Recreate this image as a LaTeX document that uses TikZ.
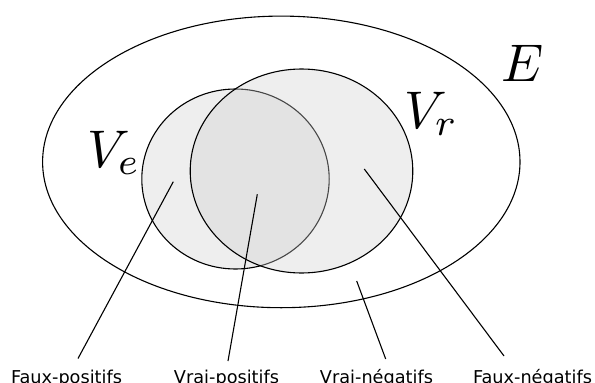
\documentclass[tikz,border=0pt]{standalone}
\usepackage{fontspec}
\newfontfamily\capfont{DejaVu Sans}
\usetikzlibrary{positioning}
\definecolor{setgray}{RGB}{238, 238, 238}
\definecolor{overgray}{RGB}{207, 207, 207}

\begin{document}
\begin{tikzpicture}[
  x=1pt, y=-1pt,
  setline/.style={draw, line width=1.1pt},
  setname/.style={inner sep=0pt, anchor=base west, scale=5.3},
  caption/.style={inner sep=0pt, anchor=base, font=\capfont\fontsize{17.7}{20}\selectfont},
  pointer/.style={line width=1.1pt}
]
  \useasboundingbox (0,0) rectangle (595,383);

  % universe and the two sets
  \draw[setline] (281.3,161.9) ellipse [x radius=238.7, y radius=145.8];
  \draw[setline, fill=setgray] (235.5,179) ellipse [x radius=93.7, y radius=90];
  \draw[setline, fill=overgray, fill opacity=0.35] (301.5,171) ellipse [x radius=111.3, y radius=102];

  \node[setname] (E) at (500,81) {$E$};
  \node[setname] (Ve) at (86,167) {$V_e$};
  \node[setname] (Vr) at (403,128) {$V_r$};

  % captions
  \node[caption] (fp) at (66.5,383.5) {Faux-positifs};
  \node[caption] (vp) at (226.5,383.5) {Vrai-positifs};
  \node[caption] (vn) at (376.5,383.5) {Vrai-négatifs};
  \node[caption] (fn) at (532.5,383.5) {Faux-négatifs};

  \coordinate (fpin) at (173.3,181.7);
  \coordinate (vpin) at (257.3,194.3);
  \coordinate (vnin) at (356.7,281);
  \coordinate (fnin) at (364.3,169);
  \coordinate (fpend) at (78,358.5);
  \coordinate (vpend) at (228,361);
  \coordinate (vnend) at (385.7,359);
  \coordinate (fnend) at (504,356);

  \draw[pointer] (fpin) -- (fpend);
  \draw[pointer] (vpin) -- (vpend);
  \draw[pointer] (vnin) -- (vnend);
  \draw[pointer] (fnin) -- (fnend);
\end{tikzpicture}
\end{document}
